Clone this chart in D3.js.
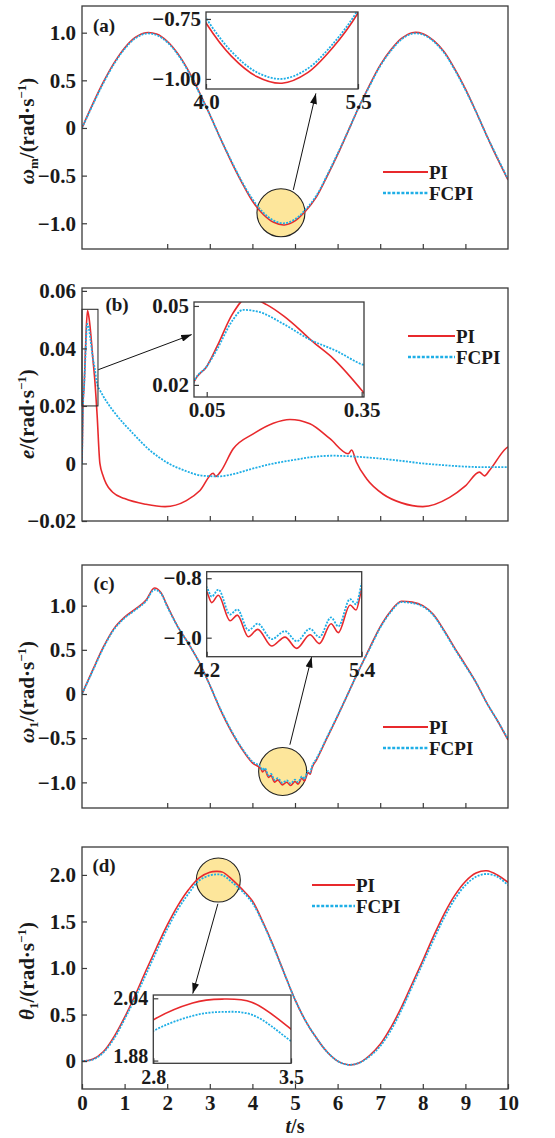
<!DOCTYPE html>
<html>
<head>
<meta charset="utf-8">
<script src="https://cdn.jsdelivr.net/npm/d3@7"></script>
<style>
  body { margin: 0; background: #fff; }
  text { font-family: "Liberation Serif", "Times New Roman", serif; font-weight: bold; fill: #1a1a1a; }
</style>
</head>
<body>
<svg id="chart" width="555" height="1138"></svg>
<script>
// ---- data ----
// (a) motor speed
const tA = [0,0.25,0.5,0.75,1,1.25,1.5,1.75,2,2.25,2.5,2.75,3,3.25,3.5,3.75,4,4.25,4.5,4.75,5,5.25,5.5,5.75,6,6.25,6.5,6.75,7,7.25,7.5,7.75,8,8.25,8.5,8.75,9,9.25,9.5,9.75,10];
const piA = [0,0.25,0.48,0.68,0.84,0.95,1.0,0.985,0.91,0.78,0.6,0.38,0.14,-0.11,-0.35,-0.57,-0.767,-0.905,-0.99,-1.018,-0.975,-0.87,-0.725,-0.51,-0.28,-0.03,0.22,0.45,0.66,0.82,0.94,1.0,0.99,0.92,0.8,0.62,0.41,0.17,-0.08,-0.32,-0.545];
const fcpiA = [0,0.24,0.47,0.67,0.83,0.94,0.99,0.975,0.9,0.77,0.59,0.37,0.14,-0.11,-0.34,-0.56,-0.746,-0.885,-0.972,-1.0,-0.958,-0.855,-0.712,-0.5,-0.27,-0.03,0.22,0.44,0.65,0.81,0.93,0.99,0.98,0.91,0.79,0.61,0.4,0.17,-0.08,-0.31,-0.54];

// (b) error
const tB_pi = [0,0.025,0.05,0.07,0.1,0.13,0.166,0.2,0.23,0.253,0.295,0.355,0.42,0.5,0.57,0.72,1.0,1.5,1.95,2.45,2.77,3.08,3.14,3.24,3.55,4.02,4.49,4.88,5.35,5.82,6.25,6.33,6.44,6.68,7.07,7.5,8.0,8.63,9.0,9.33,9.45,9.56,9.95,10];
const piB = [0,0.021,0.027,0.0346,0.047,0.0532,0.0505,0.046,0.041,0.0368,0.030,0.0168,0.0,-0.0045,-0.0071,-0.0100,-0.0122,-0.0142,-0.015,-0.0129,-0.0094,-0.0034,-0.0045,-0.0031,0.0051,0.0103,0.014,0.0153,0.0138,0.0086,0.0034,0.0047,0.0005,-0.0053,-0.0107,-0.0137,-0.015,-0.0118,-0.0078,-0.003,-0.0043,-0.0025,0.0052,0.0058];
const tB_fc = [0,0.025,0.05,0.07,0.1,0.12,0.15,0.2,0.25,0.3,0.355,0.42,0.6,0.8,1.2,1.6,2.0,2.4,2.8,3.2,3.6,4.0,4.5,5.0,5.5,5.9,6.5,7.0,7.5,8.0,8.5,9.0,9.5,10];
const fcpiB = [0,0.021,0.027,0.0335,0.0445,0.0485,0.0478,0.0430,0.0372,0.0330,0.0275,0.0255,0.021,0.017,0.0104,0.0045,0.0003,-0.0024,-0.0042,-0.0045,-0.0035,-0.0018,0.0,0.0013,0.0024,0.0027,0.0023,0.0017,0.0009,0.0,-0.0006,-0.0011,-0.0013,-0.0013];

// (c) load speed
const tC = [0,0.25,0.5,0.75,1,1.25,1.5,1.7,1.85,2,2.25,2.5,2.75,3,3.25,3.5,3.75,4,
  4.2,4.239,4.29,4.381,4.437,4.523,4.595,4.703,4.806,4.897,5.0,5.072,5.163,5.219,5.31,5.356,5.4,
  5.5,5.75,6,6.25,6.5,6.75,7,7.25,7.5,7.75,8,8.25,8.5,8.75,9,9.25,9.5,9.75,10];
const piC = [0,0.27,0.53,0.74,0.87,0.96,1.06,1.2,1.15,1.0,0.76,0.57,0.36,0.1,-0.18,-0.42,-0.62,-0.78,
  -0.845,-0.882,-0.857,-0.943,-0.924,-0.997,-0.972,-1.028,-0.998,-1.036,-0.99,-1.02,-0.953,-0.983,-0.89,-0.907,-0.835,
  -0.75,-0.5,-0.25,0.01,0.27,0.52,0.76,0.94,1.05,1.04,1.0,0.9,0.72,0.52,0.33,0.13,-0.1,-0.3,-0.52];
const fcpiC = [0,0.26,0.52,0.73,0.86,0.95,1.05,1.18,1.14,0.99,0.76,0.57,0.36,0.1,-0.17,-0.41,-0.61,-0.765,
  -0.83,-0.862,-0.838,-0.922,-0.905,-0.975,-0.953,-1.005,-0.978,-1.012,-0.97,-0.998,-0.932,-0.962,-0.87,-0.888,-0.818,
  -0.735,-0.49,-0.245,0.01,0.27,0.51,0.75,0.93,1.04,1.03,0.99,0.89,0.71,0.51,0.32,0.13,-0.1,-0.3,-0.51];

// (d) load angle
const tD = [0,0.25,0.5,0.75,1,1.25,1.5,1.75,2,2.25,2.5,2.75,3,3.15,3.3,3.5,3.75,4,4.25,4.5,4.75,5,5.25,5.5,5.75,6,6.25,6.5,6.75,7,7.25,7.5,7.75,8,8.25,8.5,8.75,9,9.25,9.5,9.75,10];
const piD = [0,0.02,0.1,0.26,0.47,0.71,0.97,1.22,1.46,1.67,1.84,1.968,2.028,2.038,2.03,1.961,1.85,1.72,1.49,1.23,0.94,0.66,0.43,0.25,0.1,0.0,-0.04,-0.02,0.06,0.18,0.36,0.58,0.83,1.08,1.34,1.58,1.78,1.93,2.02,2.045,2.0,1.92];
const fcpiD = [0,0.015,0.09,0.24,0.45,0.68,0.93,1.18,1.42,1.63,1.8,1.94,1.995,2.005,1.998,1.93,1.83,1.7,1.48,1.22,0.94,0.66,0.43,0.25,0.1,0.0,-0.04,-0.02,0.05,0.16,0.33,0.55,0.8,1.05,1.3,1.54,1.74,1.89,1.98,2.01,1.98,1.89];

const xLabels = [0,1,2,3,4,5,6,7,8,9,10];
const legendNames = ["PI", "FCPI"];

// ---- layout ----
const svg = d3.select("#chart");
const left = 82, right = 508;
const red = "#e8292c", blue = "#1eaee6", ink = "#3a3a3a";
const fs = 21;

const fmt = n => d => d === 0 ? "0" : (d < 0 ? "\u2212" : "") + Math.abs(d).toFixed(n);

svg.append("defs").append("marker")
  .attr("id", "ah").attr("viewBox", "0 0 12 8").attr("refX", 12).attr("refY", 4)
  .attr("markerUnits", "userSpaceOnUse").attr("markerWidth", 11).attr("markerHeight", 7)
  .attr("orient", "auto")
  .append("path").attr("d", "M0,0L12,4L0,8Z").attr("fill", "#111");

const panels = [
  { key: "a", top: 6, bottom: 249, yDomain: [-1.27, 1.28], yTicks: [1, 0.5, 0, -0.5, -1], yFmt: fmt(1),
    curve: d3.curveCatmullRom.alpha(0.5), tPI: tA, pi: piA, tFC: tA, fc: fcpiA,
    xMarks: [2,3,4,5,6,7,8,9], label: "(a)", labelX: 104, labelY: 25,
    sym: "\u03c9", sub: "m", titleY: 131, legend: { x0: 383, x1: 428, y: 172 },
    circle: { t: 4.67, v: -0.89, r: 24 }, arrow: [[4.96, -0.65], [5.49, 0.363]],
    inset: { x0: 206, x1: 358, y0: 12, y1: 89, xDomain: [4.0, 5.5], yDomain: [-1.042, -0.721],
      yTicks: [-0.75, -1.0], yFmt: fmt(2), xTicks: [4.0, 5.5], xFmt: fmt(1) } },
  { key: "b", top: 288, bottom: 521, yDomain: [-0.02, 0.061], yTicks: [0.06, 0.04, 0.02, 0, -0.02], yFmt: fmt(2),
    curve: d3.curveMonotoneX, tPI: tB_pi, pi: piB, tFC: tB_fc, fc: fcpiB,
    xMarks: [2,3,4,5,6,7,8,9], label: "(b)", labelX: 117, labelY: 304,
    sym: "e", sub: null, titleY: 414, legend: { x0: 408, x1: 455, y: 336 },
    rect: { t0: 0, t1: 0.375, v0: 0.02, v1: 0.0536 }, arrow: [[0.383, 0.0326], [2.575, 0.0448]],
    inset: { x0: 194, x1: 364, y0: 302, y1: 397, xDomain: [0.0254, 0.3545], yDomain: [0.0154, 0.0515],
      yTicks: [0.05, 0.02], yFmt: fmt(2), xTicks: [0.05, 0.35], xFmt: fmt(2) } },
  { key: "c", top: 565, bottom: 808, yDomain: [-1.29, 1.46], yTicks: [1, 0.5, 0, -0.5, -1], yFmt: fmt(1),
    curve: d3.curveMonotoneX, tPI: tC, pi: piC, tFC: tC, fc: fcpiC,
    xMarks: [2,3,4,5,6,7,8,9], label: "(c)", labelX: 104, labelY: 583,
    sym: "\u03c9", sub: "1", titleY: 692, legend: { x0: 383, x1: 428, y: 727 },
    circle: { t: 4.71, v: -0.877, r: 24 }, arrow: [[4.88, -0.574], [5.39, 0.419]],
    inset: { x0: 206.7, x1: 361.7, y0: 571.7, y1: 656.7, xDomain: [4.2, 5.4], yDomain: [-1.064, -0.778],
      yTicks: [-0.8, -1.0], yFmt: fmt(1), xTicks: [4.2, 5.4], xFmt: fmt(1) } },
  { key: "d", top: 847, bottom: 1089, yDomain: [-0.30, 2.30], yTicks: [2, 1.5, 1, 0.5, 0], yFmt: fmt(1),
    curve: d3.curveCatmullRom.alpha(0.5), tPI: tD, pi: piD, tFC: tD, fc: fcpiD,
    xMarks: xLabels, showX: true, label: "(d)", labelX: 104, labelY: 865,
    sym: "\u03b8", sub: "1", titleY: 971, legend: { x0: 312, x1: 355, y: 885 },
    circle: { t: 3.2, v: 1.945, r: 22 }, arrow: [[3.19, 1.69], [2.6, 0.725]],
    inset: { x0: 153.3, x1: 291, y0: 995, y1: 1063.3, xDomain: [2.8, 3.5], yDomain: [1.873, 2.0485],
      yTicks: [2.04, 1.88], yFmt: fmt(2), xTicks: [2.8, 3.5], xFmt: fmt(1), lowLabelLift: 4, xPad: 7 } }
];

function styleAxis(a, size) {
  a.select(".domain").remove();
  a.selectAll("line").attr("stroke", ink).attr("stroke-width", 1.2);
  a.selectAll("text").attr("font-size", size || fs).attr("fill", "#1a1a1a")
    .attr("font-family", "'Liberation Serif', serif").attr("font-weight", "bold");
}

function drawLines(g, x, y, p, clipId) {
  const line = d3.line().x(d => x(d[0])).y(d => y(d[1])).curve(p.curve);
  const lg = g.append("g").attr("clip-path", `url(#${clipId})`);
  lg.append("path").datum(d3.zip(p.tPI, p.pi)).attr("d", line)
    .attr("fill", "none").attr("stroke", red).attr("stroke-width", 1.6);
  lg.append("path").datum(d3.zip(p.tFC, p.fc)).attr("d", line)
    .attr("fill", "none").attr("stroke", blue).attr("stroke-width", 1.8).attr("stroke-dasharray", "2,1.3");
}

function drawPanel(p) {
  const g = svg.append("g");
  const x = d3.scaleLinear().domain([0, 10]).range([left, right]);
  const y = d3.scaleLinear().domain(p.yDomain).range([p.bottom, p.top]);

  svg.select("defs").append("clipPath").attr("id", "clip" + p.key).append("rect")
    .attr("x", left).attr("y", p.top).attr("width", right - left).attr("height", p.bottom - p.top);

  if (p.circle) {
    g.append("circle").attr("cx", x(p.circle.t)).attr("cy", y(p.circle.v)).attr("r", p.circle.r)
      .attr("fill", "#fde69b").attr("stroke", "#222").attr("stroke-width", 1.1);
  }

  drawLines(g, x, y, p, "clip" + p.key);

  if (p.rect) {
    g.append("rect").attr("x", x(p.rect.t0)).attr("y", y(p.rect.v1))
      .attr("width", x(p.rect.t1) - x(p.rect.t0)).attr("height", y(p.rect.v0) - y(p.rect.v1))
      .attr("fill", "none").attr("stroke", "#222").attr("stroke-width", 1);
  }

  // frame and ticks
  g.append("rect").attr("x", left).attr("y", p.top).attr("width", right - left).attr("height", p.bottom - p.top)
    .attr("fill", "none").attr("stroke", ink).attr("stroke-width", 1.3);

  styleAxis(g.append("g").attr("transform", `translate(${left},0)`)
    .call(d3.axisLeft(y).tickValues(p.yTicks).tickSize(-5).tickPadding(6).tickFormat(p.yFmt)));
  styleAxis(g.append("g").attr("transform", `translate(0,${p.bottom})`)
    .call(d3.axisBottom(x).tickValues(p.xMarks).tickSize(-5).tickPadding(6)
      .tickFormat(p.showX ? d3.format("d") : "")));

  // panel letter
  g.append("text").attr("x", p.labelX).attr("y", p.labelY).attr("dy", "0.35em")
    .attr("text-anchor", "middle").attr("font-size", 19).text(p.label);

  // y title
  const tt = g.append("text").attr("transform", `translate(34,${p.titleY}) rotate(-90)`)
    .attr("text-anchor", "middle").attr("font-size", fs);
  tt.append("tspan").attr("font-style", "italic").text(p.sym);
  if (p.sub) {
    tt.append("tspan").attr("font-size", 13).attr("dy", 4).text(p.sub);
    tt.append("tspan").attr("dy", -4).text("/(rad\u00b7s");
  } else {
    tt.append("tspan").text("/(rad\u00b7s");
  }
  tt.append("tspan").attr("font-size", 13).attr("dy", -8).text("\u22121");
  tt.append("tspan").attr("dy", 8).text(")");

  // legend
  const L = p.legend, gap = 21;
  g.append("line").attr("x1", L.x0).attr("x2", L.x1).attr("y1", L.y).attr("y2", L.y)
    .attr("stroke", red).attr("stroke-width", 2);
  g.append("line").attr("x1", L.x0).attr("x2", L.x1).attr("y1", L.y + gap).attr("y2", L.y + gap)
    .attr("stroke", blue).attr("stroke-width", 2.6).attr("stroke-dasharray", "3,1.6");
  legendNames.forEach((n, i) => {
    g.append("text").attr("x", L.x1 + 1).attr("y", L.y + i * gap).attr("dy", "0.35em")
      .attr("font-size", 19).text(n);
  });

  // arrow
  g.append("line")
    .attr("x1", x(p.arrow[0][0])).attr("y1", y(p.arrow[0][1]))
    .attr("x2", x(p.arrow[1][0])).attr("y2", y(p.arrow[1][1]))
    .attr("stroke", "#111").attr("stroke-width", 1).attr("marker-end", "url(#ah)");

  drawInset(p);
}

function drawInset(p) {
  const s = p.inset;
  const g = svg.append("g");
  const x = d3.scaleLinear().domain(s.xDomain).range([s.x0, s.x1]);
  const y = d3.scaleLinear().domain(s.yDomain).range([s.y1, s.y0]);
  svg.select("defs").append("clipPath").attr("id", "iclip" + p.key).append("rect")
    .attr("x", s.x0).attr("y", s.y0).attr("width", s.x1 - s.x0).attr("height", s.y1 - s.y0);

  g.append("rect").attr("x", s.x0).attr("y", s.y0).attr("width", s.x1 - s.x0).attr("height", s.y1 - s.y0)
    .attr("fill", "#fff");
  drawLines(g, x, y, p, "iclip" + p.key);
  g.append("rect").attr("x", s.x0).attr("y", s.y0).attr("width", s.x1 - s.x0).attr("height", s.y1 - s.y0)
    .attr("fill", "none").attr("stroke", ink).attr("stroke-width", 1.3);

  const ya = g.append("g").attr("transform", `translate(${s.x0},0)`)
    .call(d3.axisLeft(y).tickValues(s.yTicks).tickSize(-5).tickPadding(5).tickFormat(s.yFmt));
  styleAxis(ya, s.lowLabelLift ? 20 : fs);
  if (s.lowLabelLift) {
    ya.selectAll(".tick").filter((d, i) => i === 1).select("text")
      .attr("y", -s.lowLabelLift);
  }
  styleAxis(g.append("g").attr("transform", `translate(0,${s.y1})`)
    .call(d3.axisBottom(x).tickValues(s.xTicks).tickSize(-5).tickPadding(s.xPad || 5).tickFormat(s.xFmt)),
    s.lowLabelLift ? 20 : fs);
}

panels.forEach(drawPanel);

// x-axis title
svg.append("text").attr("x", 295).attr("y", 1133).attr("text-anchor", "middle").attr("font-size", 20)
  .call(t => {
    t.append("tspan").attr("font-style", "italic").text("t");
    t.append("tspan").text("/s");
  });
</script>
</body>
</html>
